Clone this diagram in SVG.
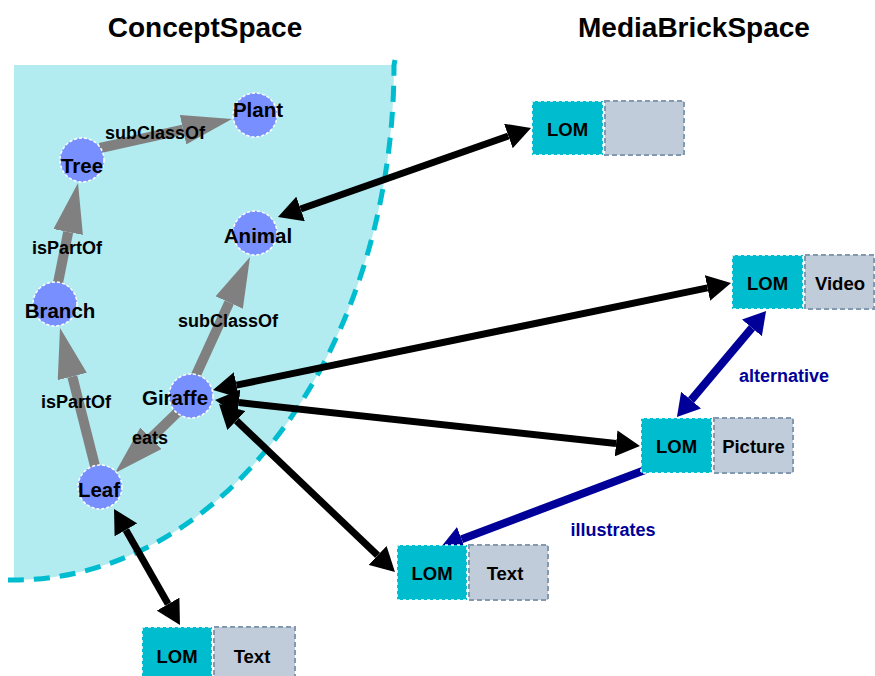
<svg xmlns="http://www.w3.org/2000/svg" width="875" height="676" viewBox="0 0 875 676">
<style>
.title{font-family:"Liberation Sans",Arial,sans-serif;font-weight:bold;font-size:28px;fill:#000;text-anchor:middle}
.nl{font-family:"Liberation Sans",Arial,sans-serif;font-weight:bold;font-size:20.5px;fill:#000;text-anchor:middle}
.el{font-family:"Liberation Sans",Arial,sans-serif;font-weight:bold;font-size:18px;fill:#000;text-anchor:middle}
.bl{font-family:"Liberation Sans",Arial,sans-serif;font-weight:bold;font-size:18px;fill:#000099;text-anchor:middle}
.bt{font-family:"Liberation Sans",Arial,sans-serif;font-weight:bold;font-size:18.5px;fill:#000;text-anchor:middle}
.node{fill:#7890ff;stroke:#ffffff;stroke-width:1.5;stroke-dasharray:3 2}
.lom{fill:#00bccf;stroke:#ffffff;stroke-width:1.5;stroke-dasharray:3 3}
.med{fill:#c0ccda;stroke:#8399b0;stroke-width:2;stroke-dasharray:5 3}
.g{stroke:#808080;stroke-width:10;fill:none;marker-end:url(#ga)}
.k{stroke:#000;stroke-width:7;fill:none;marker-start:url(#ka);marker-end:url(#ka)}
.b{stroke:#000099;stroke-width:8;fill:none}
</style>
<defs>
<marker id="ga" viewBox="0 0 50 30" refX="0" refY="15" markerWidth="50" markerHeight="30" markerUnits="userSpaceOnUse" orient="auto"><path d="M0,0 L50,15 L0,30 Z" fill="#808080"/></marker>
<marker id="ka" viewBox="0 0 24 26" refX="0" refY="13" markerWidth="24" markerHeight="26" markerUnits="userSpaceOnUse" orient="auto-start-reverse"><path d="M0,0 L24,13 L0,26 Z" fill="#000"/></marker>
<marker id="ba" viewBox="0 0 22 26" refX="0" refY="13" markerWidth="22" markerHeight="26" markerUnits="userSpaceOnUse" orient="auto-start-reverse"><path d="M0,0 L22,13 L0,26 Z" fill="#000099"/></marker>
</defs>
<rect x="0" y="0" width="875" height="676" fill="#ffffff"/>
<g id="conceptSpace">
<path d="M14,65 H394 A380 515 0 0 1 14,580 Z" fill="#b2ebf0"/>
<path d="M395,60 L394,65 A380 515 0 0 1 14,580 H8" fill="none" stroke="#00bccf" stroke-width="5" stroke-dasharray="16 10"/>
</g>
<text class="title" x="205" y="37">ConceptSpace</text>
<text class="title" x="694" y="37">MediaBrickSpace</text>
<g id="connectors">
<line class="g" x1="100" y1="148" x2="183.1" y2="129.7"/>
<line class="g" x1="58" y1="283" x2="68.2" y2="232"/>
<line class="g" x1="196" y1="375" x2="229.2" y2="302.5"/>
<line class="g" x1="95" y1="466" x2="72.3" y2="376.5"/>
<line class="g" x1="182" y1="408" x2="150.9" y2="438.2"/>
<line class="k" x1="300.6" y1="209" x2="508.4" y2="136"/>
<line class="k" x1="236.5" y1="385.1" x2="707.5" y2="287.9"/>
<line class="k" x1="238.9" y1="402.6" x2="616.1" y2="443.4"/>
<line class="k" x1="236.4" y1="420.6" x2="377.6" y2="555.4"/>
<line class="k" x1="125.9" y1="529.9" x2="168.1" y2="604.1"/>
<line class="b" x1="751.9" y1="327.9" x2="691.1" y2="400.1" marker-start="url(#ba)" marker-end="url(#ba)"/>
<line class="b" x1="645" y1="470" x2="461.6" y2="539.2" marker-end="url(#ba)"/>
<text class="el" x="155" y="139">subClassOf</text>
<text class="el" x="67" y="254">isPartOf</text>
<text class="el" x="228" y="327">subClassOf</text>
<text class="el" x="76" y="408">isPartOf</text>
<text class="el" x="150" y="444">eats</text>
<text class="bl" x="784" y="382">alternative</text>
<text class="bl" x="613" y="536">illustrates</text>
</g>
<g id="node-plant"><circle class="node" cx="255" cy="115" r="22"/><text class="nl" x="258" y="117">Plant</text></g>
<g id="node-tree"><circle class="node" cx="82" cy="160" r="22"/><text class="nl" x="82" y="173">Tree</text></g>
<g id="node-animal"><circle class="node" cx="255" cy="233" r="22"/><text class="nl" x="258" y="243">Animal</text></g>
<g id="node-branch"><circle class="node" cx="55" cy="304" r="22"/><text class="nl" x="60" y="318">Branch</text></g>
<g id="node-giraffe"><circle class="node" cx="191" cy="396" r="22"/><text class="nl" x="175" y="405">Giraffe</text></g>
<g id="node-leaf"><circle class="node" cx="100" cy="487" r="22"/><text class="nl" x="99" y="497">Leaf</text></g>
<g id="brick-top"><rect class="lom" x="532" y="101" width="71" height="54"/><rect class="med" x="605" y="101" width="79" height="54"/><text class="bt" x="567.5" y="136">LOM</text></g>
<g id="brick-video"><rect class="lom" x="732" y="255" width="71" height="54"/><rect class="med" x="805" y="255" width="69" height="54"/><text class="bt" x="767.5" y="290">LOM</text><text class="bt" x="840" y="290">Video</text></g>
<g id="brick-picture"><rect class="lom" x="641" y="418" width="71" height="55"/><rect class="med" x="714" y="418" width="79" height="55"/><text class="bt" x="676.5" y="453">LOM</text><text class="bt" x="753.5" y="453">Picture</text></g>
<g id="brick-text1"><rect class="lom" x="397" y="545" width="70" height="55"/><rect class="med" x="469" y="545" width="79" height="55"/><text class="bt" x="432" y="580">LOM</text><text class="bt" x="505" y="580">Text</text></g>
<g id="brick-text2"><rect class="lom" x="142" y="627" width="70" height="55"/><rect class="med" x="214" y="627" width="81" height="55"/><text class="bt" x="177" y="663">LOM</text><text class="bt" x="252" y="663">Text</text></g>
</svg>
